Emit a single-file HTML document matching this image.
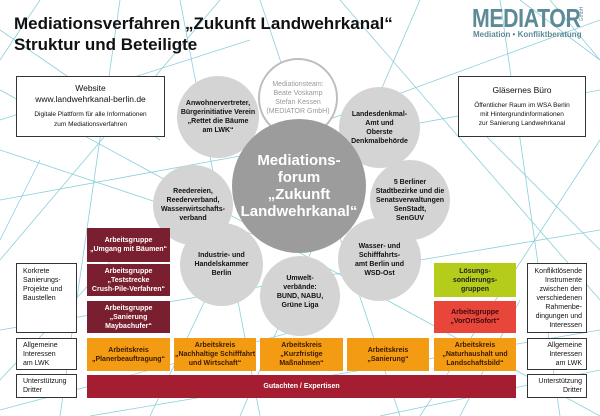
<!DOCTYPE html>
<html><head><meta charset="utf-8"><style>
*{margin:0;padding:0;box-sizing:border-box}
body{width:600px;height:416px;position:relative;background:#fff;font-family:"Liberation Sans",Arial,sans-serif;overflow:hidden}
.a{position:absolute;display:flex;align-items:center;justify-content:center;text-align:center;flex-direction:column}
.c{border-radius:50%;background:#d4d4d4;font-size:7px;line-height:9px;color:#111;font-weight:bold}
.wb{background:#fff;border:1px solid #333;font-size:7px;line-height:9px;color:#111}
.dr{background:#7a1f2f;color:#fff;font-size:7px;line-height:9px;font-weight:bold}
.or{background:#f39b12;color:#3a1a00;font-size:7px;line-height:9px;font-weight:bold}
</style></head><body>
<svg width="600" height="416" style="position:absolute;left:0;top:0" stroke="#8ccfdb" stroke-width="0.8" fill="none">
<line x1="0" y1="30" x2="160" y2="140"/><line x1="40" y1="0" x2="0" y2="60"/>
<line x1="120" y1="0" x2="60" y2="416"/><line x1="0" y1="120" x2="250" y2="40"/>
<line x1="0" y1="200" x2="600" y2="90"/><line x1="0" y1="260" x2="220" y2="0"/>
<line x1="180" y1="0" x2="260" y2="416"/><line x1="260" y1="0" x2="400" y2="416"/>
<line x1="340" y1="0" x2="600" y2="300"/><line x1="420" y1="0" x2="240" y2="416"/>
<line x1="500" y1="0" x2="560" y2="416"/><line x1="600" y1="20" x2="300" y2="130"/>
<line x1="0" y1="330" x2="600" y2="230"/><line x1="0" y1="380" x2="140" y2="230"/>
<line x1="0" y1="90" x2="600" y2="416"/><line x1="600" y1="140" x2="420" y2="416"/>
<line x1="600" y1="60" x2="520" y2="0"/><line x1="90" y1="416" x2="600" y2="330"/>
<line x1="0" y1="410" x2="300" y2="330"/><line x1="380" y1="416" x2="600" y2="370"/>
<line x1="40" y1="160" x2="0" y2="240"/><line x1="150" y1="416" x2="210" y2="290"/>
<line x1="460" y1="416" x2="520" y2="300"/><line x1="550" y1="0" x2="600" y2="60"/>
<line x1="0" y1="150" x2="300" y2="250"/><line x1="600" y1="250" x2="470" y2="120"/>
</svg>

<div style="position:absolute;left:14px;top:13px;font-size:17px;font-weight:bold;line-height:21px;color:#111">Mediationsverfahren „Zukunft Landwehrkanal“<br>Struktur und Beteiligte</div>
<div style="position:absolute;left:472px;top:3px;font-size:26px;font-weight:bold;color:#5d8a96;letter-spacing:-0.5px;transform:scaleX(0.82);transform-origin:left">MEDIATOR</div>
<div style="position:absolute;left:575px;top:11px;font-size:5px;color:#5d8a96;transform:rotate(-90deg)">GmbH</div>
<div style="position:absolute;left:473px;top:30px;font-size:8px;color:#5d8a96;font-weight:bold">Mediation • Konfliktberatung</div>

<div class="a wb" style="left:16px;top:76px;width:149px;height:61px"><div style="font-size:8.5px;line-height:11px">Website<br>www.landwehrkanal-berlin.de</div><div style="font-size:6.5px;margin-top:5px;line-height:10px">Digitale Plattform für alle Informationen<br>zum Mediationsverfahren</div></div>
<div class="a wb" style="left:458px;top:76px;width:128px;height:61px"><div style="font-size:8.5px;margin-bottom:6px">Gläsernes Büro</div><div style="font-size:6.5px;line-height:9px">Öffentlicher Raum im WSA Berlin<br>mit Hintergrundinformationen<br>zur Sanierung Landwehrkanal</div></div>

<div class="a c" style="left:177px;top:76px;width:82px;height:82px">Anwohnervertreter,<br>Bürgerinitiative Verein<br>„Rettet die Bäume<br>am LWK“</div>
<div class="a c" style="left:339px;top:87px;width:81px;height:81px">Landesdenkmal-<br>Amt und<br>Oberste<br>Denkmalbehörde</div>
<div class="a c" style="left:153px;top:165px;width:80px;height:80px">Reedereien,<br>Reederverband,<br>Wasserwirtschafts-<br>verband</div>
<div class="a c" style="left:370px;top:160px;width:80px;height:80px">5 Berliner<br>Stadtbezirke und die<br>Senatsverwaltungen<br>SenStadt,<br>SenGUV</div>
<div class="a c" style="left:180px;top:223px;width:83px;height:83px">Industrie- und<br>Handelskammer<br>Berlin</div>
<div class="a c" style="left:338px;top:218px;width:83px;height:83px">Wasser- und<br>Schifffahrts-<br>amt Berlin und<br>WSD-Ost</div>
<div class="a c" style="left:260px;top:256px;width:80px;height:80px;justify-content:flex-start;padding-top:18px">Umwelt-<br>verbände:<br>BUND, NABU,<br>Grüne Liga</div>
<div class="a c" style="left:258px;top:58px;width:80px;height:80px;background:#fff;border:2px solid #bdbdbd;color:#999;font-weight:normal">Mediationsteam:<br>Beate Voskamp<br>Stefan Kessen<br>(MEDIATOR GmbH)</div>
<div class="a c" style="left:232px;top:119px;width:134px;height:134px;background:#9c9c9c;color:#fff;font-size:15px;line-height:17px">Mediations-<br>forum<br>„Zukunft<br>Landwehrkanal“</div>

<div class="a dr" style="left:87px;top:228px;width:83px;height:34px">Arbeitsgruppe<br>„Umgang mit Bäumen“</div>
<div class="a dr" style="left:87px;top:264px;width:83px;height:32px">Arbeitsgruppe<br>„Teststrecke<br>Crush-Pile-Verfahren“</div>
<div class="a dr" style="left:87px;top:301px;width:83px;height:32px">Arbeitsgruppe<br>„Sanierung<br>Maybachufer“</div>
<div class="a" style="left:434px;top:263px;width:82px;height:34px;background:#b6cc1a;color:#222;font-size:7px;line-height:9px;font-weight:bold">Lösungs-<br>sondierungs-<br>gruppen</div>
<div class="a" style="left:434px;top:301px;width:82px;height:32px;background:#e9463b;color:#3a0a0a;font-size:7px;line-height:9px;font-weight:bold">Arbeitsgruppe<br>„VorOrtSofort“</div>

<div class="a wb" style="left:16px;top:263px;width:61px;height:70px;align-items:flex-start;justify-content:flex-start;text-align:left;padding:3px 0 0 6px">Korkrete<br>Sanierungs-<br>Projekte und<br>Baustellen</div>
<div class="a wb" style="left:16px;top:338px;width:61px;height:32px;align-items:flex-start;text-align:left;padding-left:6px">Allgemeine<br>Interessen<br>am LWK</div>
<div class="a wb" style="left:16px;top:374px;width:61px;height:24px;align-items:flex-start;text-align:left;padding-left:6px">Unterstützung<br>Dritter</div>
<div class="a wb" style="left:527px;top:263px;width:60px;height:70px;align-items:flex-end;text-align:right;padding-right:4px">Konfliktlösende<br>Instrumente<br>zwischen den<br>verschiedenen<br>Rahmenbe-<br>dingungen und<br>Interessen</div>
<div class="a wb" style="left:527px;top:338px;width:60px;height:32px;align-items:flex-end;text-align:right;padding-right:4px">Allgemeine<br>Interessen<br>am LWK</div>
<div class="a wb" style="left:527px;top:374px;width:60px;height:24px;align-items:flex-end;text-align:right;padding-right:4px">Unterstützung<br>Dritter</div>

<div class="a or" style="left:87px;top:338px;width:83px;height:33px">Arbeitskreis<br>„Planerbeauftragung“</div>
<div class="a or" style="left:174px;top:338px;width:82px;height:33px">Arbeitskreis<br>„Nachhaltige Schifffahrt<br>und Wirtschaft“</div>
<div class="a or" style="left:260px;top:338px;width:83px;height:33px">Arbeitskreis<br>„Kurzfristige<br>Maßnahmen“</div>
<div class="a or" style="left:347px;top:338px;width:82px;height:33px">Arbeitskreis<br>„Sanierung“</div>
<div class="a or" style="left:434px;top:338px;width:82px;height:33px">Arbeitskreis<br>„Naturhaushalt und<br>Landschaftsbild“</div>
<div class="a" style="left:87px;top:375px;width:429px;height:23px;background:#a51d30;color:#fff;font-size:7px;font-weight:bold">Gutachten / Expertisen</div>
</body></html>
